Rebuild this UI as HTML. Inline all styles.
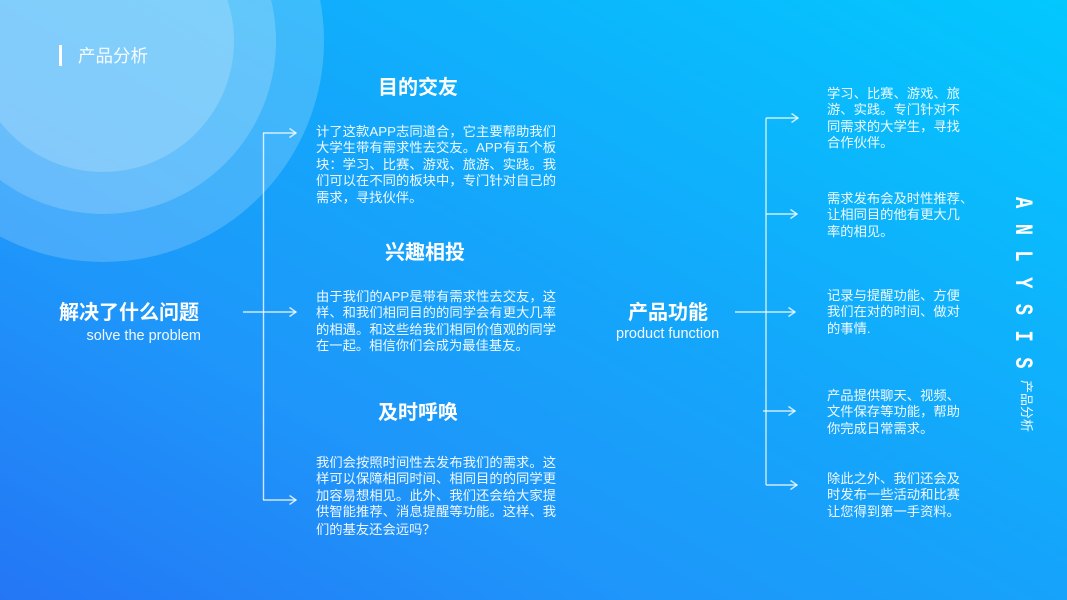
<!DOCTYPE html>
<html>
<head>
<meta charset="utf-8">
<style>
  html,body{margin:0;padding:0;}
  body{width:1067px;height:600px;overflow:hidden;position:relative;
    font-family:"Liberation Sans","Noto Sans CJK SC",sans-serif;color:#fff;
    background:linear-gradient(to top right,#2476f5 0%,#1e96fa 30%,#14a6fb 55%,#0cb6fc 75%,#02c8fe 100%);}
  .c{position:absolute;border-radius:50%;background:rgba(255,255,255,0.19);}
  .abs{position:absolute;white-space:nowrap;}
  .h{font-size:20px;line-height:20px;font-weight:bold;color:#fff;}
  .sub{font-size:14.5px;line-height:16px;color:rgba(255,255,255,0.95);}
  .p{position:absolute;width:240px;font-size:13.3px;line-height:16.5px;color:rgba(255,255,255,0.93);}
  .p div{white-space:nowrap;text-align:justify;text-align-last:justify;}
  .p div.l{text-align:left;text-align-last:left;}
  .r{position:absolute;font-size:13.3px;line-height:16.3px;color:rgba(255,255,255,0.93);white-space:nowrap;}
  .cjk{font-family:"Noto Sans CJK SC",sans-serif;}
  svg{position:absolute;left:0;top:0;}
</style>
</head>
<body>
  <!-- decorative circles -->
  <div class="c" style="left:-118px;top:-180px;width:442px;height:442px;"></div>
  <div class="c" style="left:-70px;top:-132px;width:346px;height:346px;"></div>
  <div class="c" style="left:-28px;top:-90px;width:262px;height:262px;"></div>

  <!-- header -->
  <div class="abs" style="left:59px;top:45px;width:3px;height:21px;background:#fff;"></div>
  <div class="abs" style="left:78px;top:46px;font-size:17.5px;line-height:21px;color:rgba(255,255,255,0.95);">产品分析</div>

  <!-- connectors -->
  <svg width="1067" height="600" viewBox="0 0 1067 600">
    <g fill="none" stroke="rgba(255,255,255,0.78)" stroke-width="1.4">
      <!-- left tree -->
      <line x1="263.5" y1="133" x2="263.5" y2="500"/>
      <line x1="263" y1="133" x2="296" y2="133"/>
      <polyline points="289.5,128.5 296,133 289.5,137.5"/>
      <line x1="243" y1="312" x2="296" y2="312"/>
      <polyline points="289.5,307.5 296,312 289.5,316.5"/>
      <line x1="263" y1="500" x2="296" y2="500"/>
      <polyline points="289.5,495.5 296,500 289.5,504.5"/>
      <!-- right tree -->
      <line x1="766" y1="118" x2="766" y2="485"/>
      <line x1="766" y1="118" x2="798" y2="118"/>
      <polyline points="791.5,113.5 798,118 791.5,122.5"/>
      <line x1="766" y1="214" x2="797" y2="214"/>
      <polyline points="790.5,209.5 797,214 790.5,218.5"/>
      <line x1="735" y1="312" x2="795" y2="312"/>
      <polyline points="788.5,307.5 795,312 788.5,316.5"/>
      <line x1="763" y1="411" x2="795" y2="411"/>
      <polyline points="788.5,406.5 795,411 788.5,415.5"/>
      <line x1="766" y1="485" x2="797" y2="485"/>
      <polyline points="790.5,480.5 797,485 790.5,489.5"/>
    </g>
  </svg>

  <!-- left root -->
  <div class="abs h" style="left:59px;top:303px;">解决了什么问题</div>
  <div class="abs sub" style="right:866px;top:328px;">solve the problem</div>

  <!-- section headings -->
  <div class="abs h" style="left:378px;top:78px;">目的交友</div>
  <div class="abs h" style="left:385px;top:243px;">兴趣相投</div>
  <div class="abs h" style="left:378px;top:403px;">及时呼唤</div>

  <!-- paragraphs -->
  <div class="p" style="left:316px;top:123.5px;">
    <div>计了这款APP志同道合，它主要帮助我们</div>
    <div>大学生带有需求性去交友。APP有五个板</div>
    <div>块：学习、比赛、游戏、旅游、实践。我</div>
    <div>们可以在不同的板块中，专门针对自己的</div>
    <div class="l">需求，寻找伙伴。</div>
  </div>
  <div class="p" style="left:316px;top:288.5px;">
    <div>由于我们的APP是带有需求性去交友，这</div>
    <div>样、和我们相同目的的同学会有更大几率</div>
    <div>的相遇。和这些给我们相同价值观的同学</div>
    <div class="l">在一起。相信你们会成为最佳基友。</div>
  </div>
  <div class="p" style="left:316px;top:454.5px;">
    <div>我们会按照时间性去发布我们的需求。这</div>
    <div>样可以保障相同时间、相同目的的同学更</div>
    <div>加容易想相见。此外、我们还会给大家提</div>
    <div>供智能推荐、消息提醒等功能。这样、我</div>
    <div class="l">们的基友还会远吗<span class="cjk">？</span></div>
  </div>

  <!-- middle root -->
  <div class="abs h" style="left:628px;top:303px;">产品功能</div>
  <div class="abs sub" style="left:616px;top:326px;">product function</div>

  <!-- right column -->
  <div class="r" style="left:827px;top:86px;">学习、比赛、游戏、旅<br>游、实践。专门针对不<br>同需求的大学生，寻找<br>合作伙伴。</div>
  <div class="r" style="left:827px;top:191px;">需求发布会及时性推荐、<br>让相同目的他有更大几<br>率的相见。</div>
  <div class="r" style="left:827px;top:288px;">记录与提醒功能、方便<br>我们在对的时间、做对<br>的事情.</div>
  <div class="r" style="left:827px;top:388px;">产品提供聊天、视频、<br>文件保存等功能，帮助<br>你完成日常需求。</div>
  <div class="r" style="left:827px;top:471px;">除此之外、我们还会及<br>时发布一些活动和比赛<br>让您得到第一手资料。</div>

  <!-- vertical side text -->
  <div class="abs" style="left:1035px;top:197px;transform-origin:0 0;transform:rotate(90deg) scaleX(0.75);font-family:'Liberation Mono',monospace;font-weight:bold;font-size:25px;line-height:25px;letter-spacing:20.6px;color:#fff;">ANLYSIS</div>
  <div class="abs" style="left:1033px;top:380px;transform-origin:0 0;transform:rotate(90deg);font-size:13px;line-height:13px;color:rgba(255,255,255,0.95);">产品分析</div>
</body>
</html>
